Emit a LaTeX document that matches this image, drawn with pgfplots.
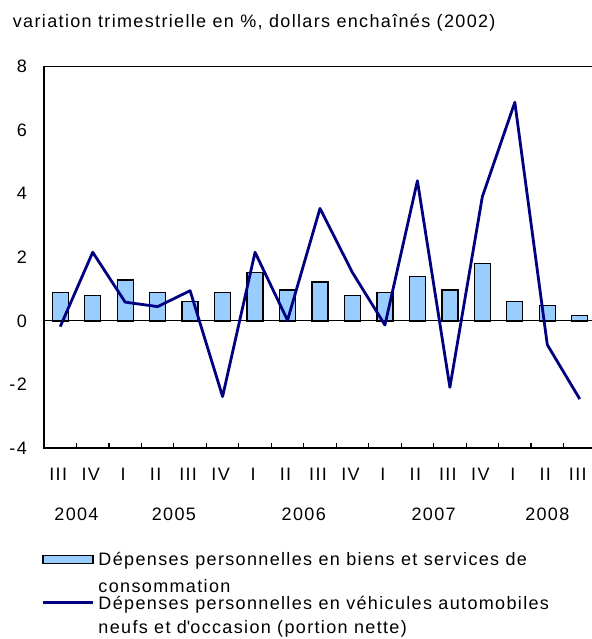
\documentclass[border=0pt]{standalone}
\usepackage{fontspec}
\setmainfont{Liberation Sans}[LetterSpace=7.5]
\usepackage{pgfplots}
\pgfplotsset{compat=1.18}
\definecolor{barblue}{HTML}{99CCFF}
\definecolor{navyline}{HTML}{000080}
\begin{document}
\fontsize{18bp}{20bp}\selectfont
\begin{tikzpicture}
\useasboundingbox (0,0) rectangle (592bp,639bp);
\node[anchor=base west, inner sep=0pt] at (12.7bp,611bp) {variation trimestrielle en \%, dollars enchaînés (2002)};
\begin{axis}[
  at={(44bp,191bp)}, anchor=south west, scale only axis,
  width=552bp, height=381.3bp,
  xmin=-0.5, xmax=16.5, ymin=-4, ymax=8,
  ytick={-4,-2,0,2,4,6,8},
  xtick={0,...,16},
  xticklabels={III,IV,I,II,III,IV,I,II,III,IV,I,II,III,IV,I,II,III},
  minor xtick={0.5,1.5,...,15.5},
  major tick length=0pt, minor tick length=5bp,
  tick align=inside, tick pos=left,
  tick style={black, line width=1.2bp},
  axis line style={black, line width=1.3bp},
  /pgf/number format/assume math mode=true,
  yticklabel style={anchor=east, inner sep=0pt, xshift=-17bp},
  xticklabel style={anchor=base, inner sep=0pt, yshift=-32bp, xshift=-2bp},
  extra y ticks={0}, extra y tick labels={},
  extra y tick style={grid=major, major grid style={black, line width=1.1bp}},
  clip=false,
  legend style={at={(-0.0042,-0.2738)}, anchor=north west, draw=none, fill=none,
    inner sep=0pt, outer sep=0pt, row sep=0.5bp, column sep=0pt,
    nodes={inner sep=0pt},
    cells={align=left},
    /tikz/every odd column/.append style={column sep=4bp}},
  legend cell align=left,
]
\addplot[ybar, bar width=16bp, fill=barblue, draw=black, line width=1.3bp,
  legend image code/.code={\draw[fill=barblue, draw=black, line width=1.3bp] (0bp,10.3bp) rectangle (50bp,18.3bp);}]
  coordinates {(0,0.90) (1,0.79) (2,1.29) (3,0.90) (4,0.61) (5,0.90) (6,1.52) (7,0.97) (8,1.22) (9,0.79) (10,0.90) (11,1.39) (12,0.97) (13,1.81) (14,0.61) (15,0.48) (16,0.18)};
\addlegendentry{Dépenses personnelles en biens et services de\\[7.3bp]consommation}
\addplot[sharp plot, navyline, line width=2.8bp, mark=none, line join=round,
  legend image code/.code={\draw[navyline, line width=2.8bp] (0bp,14bp) -- (50bp,14bp);}]
  coordinates {(0,-0.18) (1,2.16) (2,0.59) (3,0.45) (4,0.95) (5,-2.38) (6,2.16) (7,0.02) (8,3.54) (9,1.52) (10,-0.13) (11,4.41) (12,-2.09) (13,3.91) (14,6.88) (15,-0.75) (16,-2.46)};
\addlegendentry{Dépenses personnelles en véhicules automobiles\\[4bp]neufs et d\textquotesingle occasion (portion nette)}
\node[anchor=base, inner sep=0pt, yshift=-72bp] at (axis cs:0.5,-4) {2004};
\node[anchor=base, inner sep=0pt, yshift=-72bp] at (axis cs:3.5,-4) {2005};
\node[anchor=base, inner sep=0pt, yshift=-72bp] at (axis cs:7.5,-4) {2006};
\node[anchor=base, inner sep=0pt, yshift=-72bp] at (axis cs:11.5,-4) {2007};
\node[anchor=base, inner sep=0pt, yshift=-72bp] at (axis cs:15,-4) {2008};
\end{axis}
\end{tikzpicture}
\end{document}
